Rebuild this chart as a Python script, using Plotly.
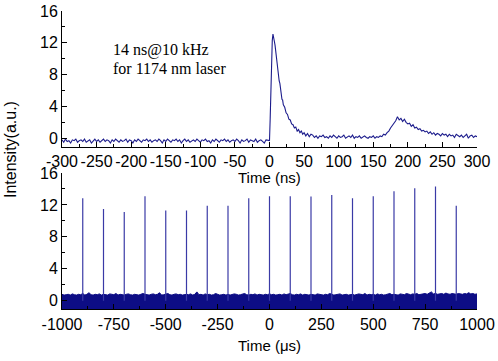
import plotly.graph_objects as go

# ---------------- data: top panel (ns) ----------------
pre_y = [-0.2, -0.5, -0.1, -0.4, -0.3, -0.6, -0.2, -0.3, -0.1, -0.5, -0.3, -0.2, -0.4, -0.1, -0.5, -0.3, -0.2, -0.6, -0.3, -0.1,
         -0.4, -0.2, -0.5, -0.3, -0.1, -0.4, -0.2, -0.3, -0.6, -0.2, -0.4, -0.1, -0.3, -0.5, -0.2, -0.4, -0.3, -0.1, -0.5, -0.2,
         -0.3, -0.6, -0.2, -0.4, -0.1, -0.3, -0.5, -0.2, -0.3, -0.1, -0.4, -0.2, -0.5, -0.3, -0.2, -0.4, -0.1, -0.3, -0.6, -0.2,
         -0.4, -0.1, -0.3, -0.5, -0.2, -0.3, -0.1, -0.4, -0.2, -0.6, -0.3, -0.1, -0.4, -0.2, -0.5, -0.3, -0.2, -0.4, -0.1, -0.3,
         -0.5, -0.2, -0.3, -0.1, -0.4, -0.3, -0.6, -0.2, -0.4, -0.1, -0.3, -0.5, -0.2, -0.3, -0.1, -0.4, -0.2, -0.5, -0.3, -0.2,
         -0.4, -0.1, -0.3, -0.6, -0.2, -0.4, -0.3, -0.1, -0.5, -0.2, -0.3, -0.4, -0.1, -0.5, -0.3, -0.2, -0.4, -0.6, -0.2, -0.3]
pre_t = [-300 + 2.5 * i for i in range(len(pre_y))]

pulse_t = [0, 1, 2, 3, 4, 5, 6, 7, 8, 9, 10, 11, 12, 13, 14, 15, 16, 17, 18, 19,
           20, 22, 24, 26, 28, 30, 32, 34, 36, 38, 40, 42, 44, 46, 48, 50, 52.5, 55, 57.5, 60]
pulse_y = [-0.3, 2.5, 7.0, 10.5, 12.3, 13.1, 12.8, 12.2, 11.7, 10.8,
           10.0, 9.5, 8.5, 8.2, 7.2, 6.9, 6.0, 5.7, 4.9, 4.8,
           4.2, 3.9, 3.2, 3.0, 2.4, 2.3, 1.8, 1.7, 1.3, 1.4,
           0.9, 1.1, 0.7, 0.9, 0.5, 0.7, 0.3, 0.6, 0.2, 0.5]

post_y = [0.4, 0.1, 0.3, 0.0, 0.3, 0.2, 0.4, 0.1, 0.2, 0.0, 0.3, 0.1, 0.4, 0.2, 0.0, 0.3, 0.1, 0.2, 0.4, 0.0,
          0.2, 0.3, 0.1, 0.4, 0.0, 0.2, 0.1, 0.3, 0.0, 0.2, 0.3, 0.1, 0.0, 0.2, 0.1, 0.3, 0.0, 0.2, 0.1, 0.3,
          0.2, 0.5, 0.4, 0.7, 0.9, 1.3, 1.6, 2.0, 2.2, 2.7, 2.3, 2.5, 2.1, 2.4, 2.0, 1.8,
          1.9, 1.5, 1.7, 1.3, 1.4, 1.1, 1.2, 0.9, 1.0, 0.8, 0.9, 0.6, 0.8, 0.5, 0.7, 0.4, 0.6, 0.5, 0.3, 0.6,
          0.4, 0.5, 0.2, 0.5, 0.3, 0.4, 0.1, 0.5, 0.3, 0.2, 0.4, 0.1, 0.3, 0.5, 0.0, 0.3, 0.4, 0.1, 0.3, 0.2]
post_t = [62.5 + 2.5 * i for i in range(len(post_y))]

time_ns = pre_t + pulse_t + post_t
intensity_ns = pre_y + pulse_y + post_y

# ---------------- data: bottom panel (us) ----------------
time_us = list(range(-1000, 1001, 10))
noise_top_us = [
    0.8, 0.7, 0.75, 0.8, 0.7, 0.85, 0.75, 0.7, 0.8, 0.75, 0.9, 0.7, 0.8, 1.0, 0.75, 0.7, 0.8, 0.75, 0.85, 0.7,
    0.8, 0.75, 0.7, 0.85, 0.8, 0.75, 0.9, 0.7, 0.8, 0.75, 0.7, 0.8, 0.85, 0.75, 0.7, 0.8, 0.75, 0.7, 0.8, 0.9,
    0.8, 0.75, 0.7, 0.8, 0.85, 0.75, 0.8, 1.0, 0.7, 0.75, 0.8, 0.9, 0.75, 0.7, 0.8, 0.85, 0.75, 0.8, 0.7, 0.75,
    0.8, 0.75, 0.85, 0.7, 0.8, 1.1, 0.75, 0.8, 0.7, 0.85, 0.75, 0.8, 0.7, 0.75, 0.9, 0.8, 0.7, 0.75, 0.8, 0.7,
    0.8, 0.7, 0.75, 0.85, 0.8, 0.7, 0.75, 0.8, 0.9, 0.75, 0.7, 0.8, 0.75, 0.85, 0.7, 0.8, 0.75, 0.7, 0.8, 0.75,
    0.85, 0.75, 0.8, 0.7, 0.75, 0.8, 0.7, 0.85, 0.75, 0.8, 0.9, 0.75, 0.7, 0.8, 0.75, 0.85, 0.7, 0.8, 0.75, 0.7,
    0.8, 0.75, 0.7, 0.85, 0.8, 0.75, 0.7, 0.8, 0.75, 0.9, 0.8, 0.7, 0.75, 0.8, 0.85, 0.7, 0.75, 0.8, 0.7, 0.75,
    0.8, 0.7, 0.75, 0.85, 0.8, 0.75, 0.9, 0.7, 0.8, 0.75, 0.8, 0.7, 0.85, 0.75, 0.8, 0.7, 0.75, 0.8, 0.9, 0.75,
    0.8, 0.75, 0.7, 0.85, 0.8, 0.75, 0.9, 0.8, 0.75, 0.85, 0.8, 0.9, 0.75, 0.8, 0.85, 0.9, 0.8, 0.95, 1.1, 0.85,
    0.9, 0.8, 0.85, 0.9, 0.8, 0.95, 0.85, 0.8, 0.9, 0.85, 0.8, 0.9, 0.85, 0.8, 0.9, 0.85, 1.0, 0.85, 0.9, 0.8,
    0.85]
noise_floor_us = -1.08

pulse_times_us = [-900, -800, -700, -600, -500, -400, -300, -200, -100, 0,
                  100, 200, 300, 400, 500, 600, 700, 800, 900]
pulse_heights = [12.85, 11.5, 11.1, 13.1, 11.3, 11.3, 11.9, 11.9, 12.85, 13.1,
                 13.1, 13.05, 13.25, 12.85, 13.1, 13.7, 14.1, 14.3, 11.9]

x_ticks_ns = [-300, -250, -200, -150, -100, -50, 0, 50, 100, 150, 200, 250, 300]
x_ticks_us = [-1000, -750, -500, -250, 0, 250, 500, 750, 1000]
y_ticks = [0, 4, 8, 12, 16]

LINE = "#1c1c8c"
SPIKE = "#3a3aa6"
BAND = "#0d0d85"

fig = go.Figure()

fig.add_trace(go.Scatter(x=time_ns, y=intensity_ns, mode="lines",
                         line=dict(color=LINE, width=1.1),
                         xaxis="x", yaxis="y", showlegend=False))

fig.add_trace(go.Scatter(x=time_us, y=[noise_floor_us] * len(time_us), mode="lines",
                         line=dict(color=BAND, width=0),
                         xaxis="x2", yaxis="y2", showlegend=False))
fig.add_trace(go.Scatter(x=time_us, y=noise_top_us, mode="lines", fill="tonexty",
                         fillcolor=BAND, line=dict(color=BAND, width=1),
                         xaxis="x2", yaxis="y2", showlegend=False))

sx, sy = [], []
for t, h in zip(pulse_times_us, pulse_heights):
    sx += [t, t, None]
    sy += [0, h, None]
fig.add_trace(go.Scatter(x=sx, y=sy, mode="lines",
                         line=dict(color=SPIKE, width=1.2),
                         xaxis="x2", yaxis="y2", showlegend=False))


def labels(vals):
    return [str(v) for v in vals]


tickfont = dict(family="Liberation Sans, Arial", size=16, color="black")
common = dict(showline=True, linecolor="black", linewidth=1, ticks="inside",
              ticklen=5, tickcolor="black", showgrid=False, zeroline=False,
              tickfont=tickfont, mirror=False, automargin=False, tickangle=0)

W, H = 498, 361


def px(x):
    return x / W


def py(y):
    return 1 - y / H


xd = [px(62), px(477)]

fig.update_layout(
    width=W, height=H,
    margin=dict(l=0, r=0, t=0, b=0),
    paper_bgcolor="white", plot_bgcolor="white",
    xaxis=dict(domain=xd, range=[-300, 300], tickvals=x_ticks_ns, ticktext=labels(x_ticks_ns),
               anchor="y",
               minor=dict(dtick=25, ticks="inside", ticklen=3, tickcolor="black"),
               **common),
    yaxis=dict(domain=[py(146.7), py(11)], range=[-1.06, 16], tickvals=y_ticks,
               ticktext=labels(y_ticks), anchor="x",
               minor=dict(dtick=2, ticks="inside", ticklen=3, tickcolor="black"),
               **common),
    xaxis2=dict(domain=xd, range=[-1000, 1000], tickvals=x_ticks_us, ticktext=labels(x_ticks_us),
                anchor="y2",
                minor=dict(dtick=125, ticks="inside", ticklen=3, tickcolor="black"),
                **common),
    yaxis2=dict(domain=[py(309.3), py(173)], range=[-1.08, 16], tickvals=y_ticks,
                ticktext=labels(y_ticks), anchor="x2",
                minor=dict(dtick=2, ticks="inside", ticklen=3, tickcolor="black"),
                **common),
)

titlefont = dict(family="Liberation Sans, Arial", size=15, color="black")
fig.add_annotation(text="Time (ns)", x=px(269.5), y=py(178), xref="paper", yref="paper",
                   showarrow=False, font=titlefont, xanchor="center", yanchor="middle")
fig.add_annotation(text="Time (μs)", x=px(269.5), y=py(345), xref="paper", yref="paper",
                   showarrow=False, font=titlefont, xanchor="center", yanchor="middle")
fig.add_annotation(text="Intensity(a.u.)", x=px(10), y=py(150), xref="paper", yref="paper",
                   showarrow=False, font=dict(family="Liberation Sans, Arial", size=16, color="black"),
                   textangle=-90, xanchor="center", yanchor="middle")

serif = dict(family="Liberation Serif, Times New Roman", size=16, color="black")
fig.add_annotation(text="14 ns@10 kHz", x=px(111), y=py(50), xref="paper", yref="paper",
                   showarrow=False, font=serif, xanchor="left", yanchor="middle")
fig.add_annotation(text="for 1174 nm laser", x=px(111), y=py(69), xref="paper", yref="paper",
                   showarrow=False, font=serif, xanchor="left", yanchor="middle")

# remove the browser's default 8 px page margin so the figure sits at the window origin
fig.write_html("out.html", config={"displayModeBar": False},
               post_script="document.body.style.margin='0';")
